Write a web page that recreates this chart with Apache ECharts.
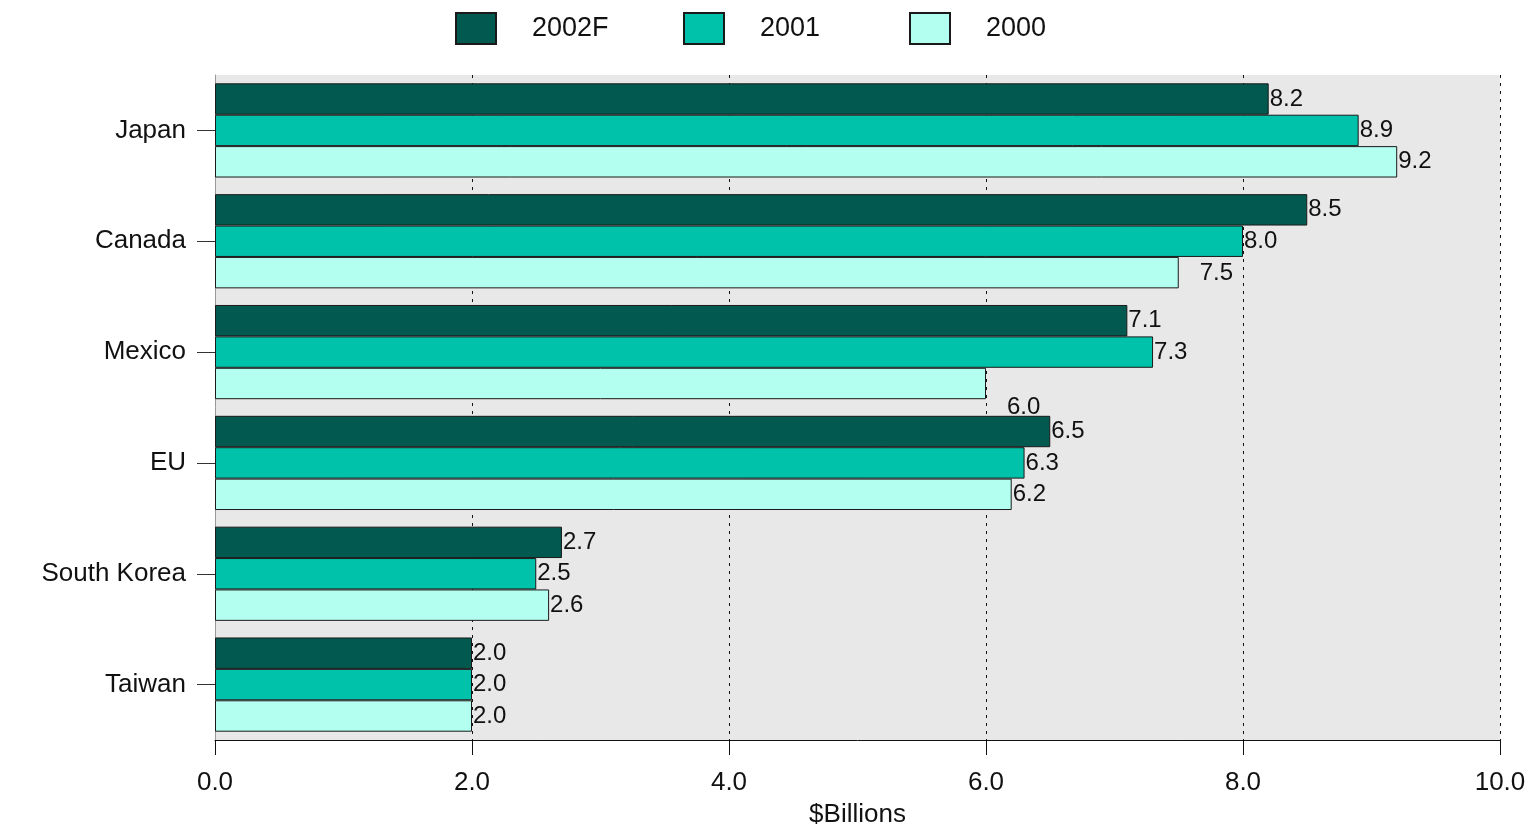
<!DOCTYPE html>
<html><head><meta charset="utf-8">
<script src="https://cdn.jsdelivr.net/npm/echarts@6/dist/echarts.min.js"></script>
<style>html,body{margin:0;padding:0;background:#fff}#c{width:1536px;height:826px}</style>
</head><body><div id="c"></div>
<script>
var categories = ['Japan', 'Canada', 'Mexico', 'EU', 'South Korea', 'Taiwan'];
var seriesNames = ['2002F', '2001', '2000'];
var v2002F = [8.2, 8.5, 7.1, 6.5, 2.7, 2.0];
var v2001 = [8.9, 8.0, 7.3, 6.3, 2.5, 2.0];
var v2000 = [9.2, 7.5, 6.0, 6.2, 2.6, 2.0];
var xTicks = [0, 2, 4, 6, 8, 10];

var colors = ['#02594f', '#00c2aa', '#b3fff0'];
var font = '"Liberation Sans", Arial, sans-serif';
// label offsets for a few data labels placed away from their bar end
var labelOffsets = { '2000': { 1: [20, 1], 2: [20, 24] } };

function mkSeries(name, vals, idx) {
  return {
    name: name, type: 'bar', barGap: '0%', barCategoryGap: '15%',
    itemStyle: { color: colors[idx], borderColor: '#1a1a1a', borderWidth: 1 },
    label: { show: true, position: 'right', distance: 1, color: '#111', fontSize: 24, fontFamily: font,
      formatter: function (p) { return p.value.toFixed(1); } },
    data: vals.map(function (v, i) {
      var off = labelOffsets[name] && labelOffsets[name][i];
      return off ? { value: v, label: { offset: off } } : v;
    }),
    z: 3
  };
}

var chart = echarts.init(document.getElementById('c'));
var legendLeft = [455, 683, 909];
chart.setOption({
  animation: false,
  backgroundColor: '#fff',
  legend: seriesNames.map(function (n, i) {
    return { data: [n], left: legendLeft[i], top: 12, padding: 0, icon: 'rect',
      itemWidth: 40, itemHeight: 31, itemGap: 0,
      textStyle: { fontSize: 27, color: '#111', fontFamily: font, padding: [3, 0, 0, 31] } };
  }),
  grid: { left: 215, right: 36, top: 75, bottom: 86, show: true, backgroundColor: '#e8e8e8',
    borderWidth: 0, containLabel: false, outerBoundsMode: 'none' },
  xAxis: {
    type: 'value', min: xTicks[0], max: xTicks[xTicks.length - 1], interval: 2,
    name: '$Billions', nameLocation: 'middle', nameGap: 62, nameMoveOverlap: false,
    nameTextStyle: { fontSize: 26, color: '#111', fontFamily: font },
    axisLine: { show: true, lineStyle: { color: '#111', width: 1 } },
    axisTick: { show: true, length: 15, lineStyle: { color: '#111' } },
    axisLabel: { fontSize: 26, color: '#111', fontFamily: font, margin: 30,
      formatter: function (v) { return v.toFixed(1); } },
    splitLine: { show: true, lineStyle: { color: '#111', type: [3, 5], width: 1 } }
  },
  yAxis: {
    type: 'category', data: categories, inverse: true,
    axisLine: { show: true, lineStyle: { color: '#999', width: 1 } },
    axisTick: { show: true, alignWithLabel: true, length: 18, lineStyle: { color: '#333' } },
    axisLabel: { fontSize: 26, color: '#111', fontFamily: font, margin: 29, padding: [5, 0, 0, 0] },
    splitLine: { show: false }
  },
  series: [mkSeries('2002F', v2002F, 0), mkSeries('2001', v2001, 1), mkSeries('2000', v2000, 2)]
});
</script></body></html>
